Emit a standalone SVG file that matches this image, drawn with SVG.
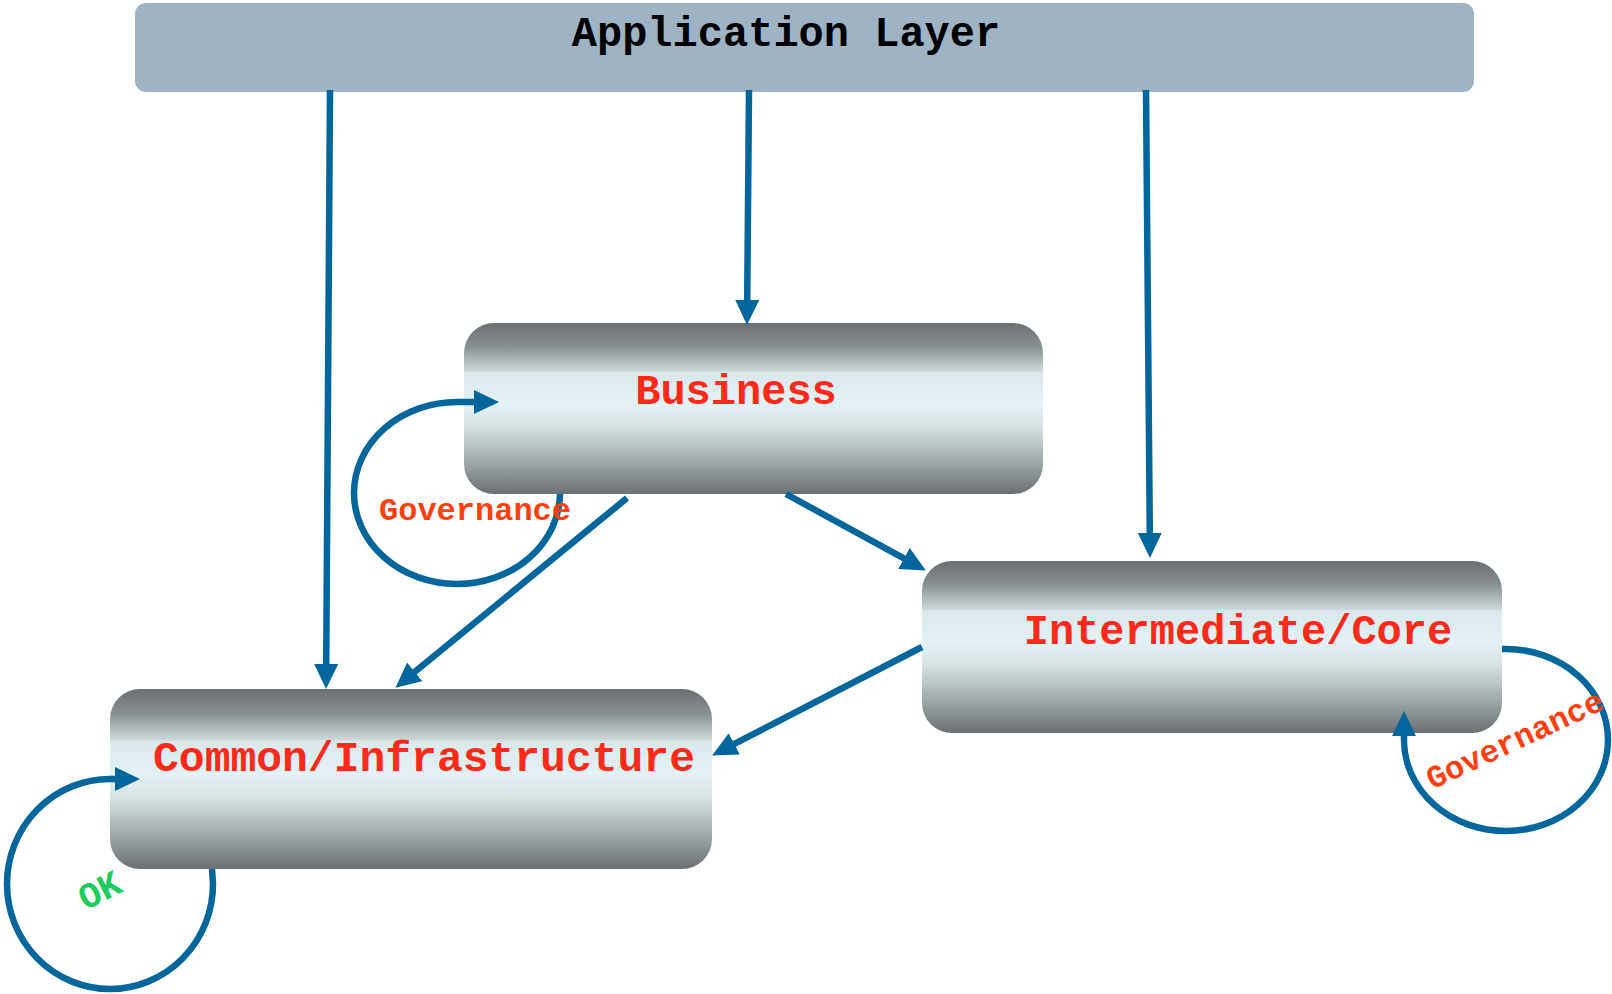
<svg xmlns="http://www.w3.org/2000/svg" width="1612" height="994" viewBox="0 0 1612 994">
<defs>
<linearGradient id="boxGrad" x1="0" y1="0" x2="0" y2="1">
<stop offset="0" stop-color="#6b6f71"/>
<stop offset="0.14" stop-color="#8a9193"/>
<stop offset="0.28" stop-color="#cbd8da"/>
<stop offset="0.29" stop-color="#d9e8ea"/>
<stop offset="0.47" stop-color="#e3f2f4"/>
<stop offset="0.6" stop-color="#d6e4e6"/>
<stop offset="0.8" stop-color="#a2acae"/>
<stop offset="1" stop-color="#6b6f71"/>
</linearGradient>
<marker id="arrow" markerUnits="userSpaceOnUse" markerWidth="28" markerHeight="26" refX="1" refY="12" orient="auto" viewBox="0 0 28 26">
<path d="M0,0 L25,12 L0,24 Z" fill="#00669c"/>
</marker>
<style>
.box { fill: url(#boxGrad); }
.label { font-family: "Liberation Mono", "DejaVu Sans Mono", monospace; font-weight: bold; text-anchor: middle; }
.node { fill: #ff2a1a; font-size: 42px; }
.gov { fill: #ff4010; font-size: 32px; }
.ok { fill: #1ccc5c; font-size: 36px; }
.conn { fill: none; stroke: #00669c; stroke-width: 6.5; marker-end: url(#arrow); }
</style>
</defs>
<rect width="1612" height="994" fill="#ffffff"/>
<g id="app-layer">
<rect x="135" y="3" width="1339" height="89" rx="11" ry="11" fill="#9eb4c4"/>
<text class="label" x="786" y="46" font-size="42" fill="#000000">Application Layer</text>
</g>
<g id="business">
<rect class="box" x="464" y="323" width="579" height="171" rx="30" ry="30"/>
<text class="label node" x="736" y="404">Business</text>
</g>
<g id="intermediate">
<rect class="box" x="922" y="561" width="580" height="172" rx="30" ry="30"/>
<text class="label node" x="1238" y="644">Intermediate/Core</text>
</g>
<g id="common">
<rect class="box" x="110" y="689" width="602" height="180" rx="30" ry="30"/>
<text class="label node" x="424" y="771" style="font-size:43px">Common/Infrastructure</text>
</g>
<g id="connectors">
<path class="conn" d="M330,90 L326.2,665"/>
<path class="conn" d="M749,90 L747.2,301"/>
<path class="conn" d="M1146,90 L1149.8,534"/>
<path class="conn" d="M786,494 L904.8,558.9"/>
<path class="conn" d="M627,498 L414,672.5"/>
<path class="conn" d="M922,647 L733.4,744.4"/>
<path class="conn" d="M560,494 A103,91 0 1 1 457,402 L475,402"/>
<path class="conn" d="M1502,649 L1506,649 A102,91 0 1 1 1404,740 L1404,735"/>
<path class="conn" d="M212,869 L213,884 A103,105 0 1 1 110,779 L116,779"/>
</g>
<g id="loop-labels">
<text class="label gov" x="475" y="520">Governance</text>
<text class="label gov" transform="translate(1515,740) rotate(-25)" x="0" y="10">Governance</text>
<text class="label ok" transform="translate(100,891) rotate(-27)" x="0" y="11">OK</text>
</g>
</svg>
